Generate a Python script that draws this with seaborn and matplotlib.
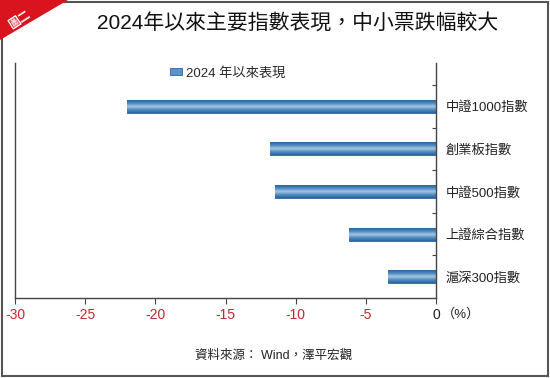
import numpy as np
import pandas as pd
import matplotlib
matplotlib.use("Agg")
import matplotlib.pyplot as plt
import seaborn as sns
from matplotlib.colors import LinearSegmentedColormap
from matplotlib.patches import Polygon, Rectangle, Patch

categories = ["中證1000指數", "創業板指數", "中證500指數", "上證綜合指數", "滬深300指數"]
values = [-22.0, -11.8, -11.45, -6.2, -3.45]
xticks = [-30, -25, -20, -15, -10, -5, 0]
series_name = "2024 年以來表現"
title = "2024年以來主要指數表現，中小票跌幅較大"
source = "資料來源： Wind，澤平宏觀"
unit = "（%）"

sns.set_theme(style="white")
plt.rcParams["font.family"] = ["Liberation Sans", "Noto Sans CJK TC", "DejaVu Sans"]

df = pd.DataFrame({"cat": categories, "val": values})

fig = plt.figure(figsize=(5.5, 3.78), dpi=100)
ax = fig.add_axes([15/550, 1-298/378, (436-15)/550, (298-63)/378])

sns.barplot(data=df, x="val", y="cat", orient="h", order=categories,
            color="#4a86bc", width=0.3, ax=ax, edgecolor="#2a64a0", linewidth=0.6)

cmap = LinearSegmentedColormap.from_list(
    "cyl", ["#2a64a0", "#4f8bc0", "#a6c8e4", "#4f8bc0", "#2a64a0"])
grad = np.linspace(0, 1, 64).reshape(-1, 1)
for p in list(ax.patches):
    x0, y0 = p.get_x(), p.get_y()
    w, h = p.get_width(), p.get_height()
    ax.imshow(grad, cmap=cmap, extent=[x0, x0 + w, y0 + h, y0], aspect="auto",
              clip_path=p, clip_on=True, zorder=p.get_zorder() + 0.1,
              interpolation="bilinear")

ax.set_xlim(-30, 0)
ax.set_ylim(4.5, -1.02)
ax.set_xlabel("")
ax.set_ylabel("")

# spines
for s in ["left", "bottom", "right"]:
    ax.spines[s].set_visible(True)
    ax.spines[s].set_color("#444444")
    ax.spines[s].set_linewidth(1.0)
ax.spines["top"].set_visible(False)

# x ticks
ax.set_xticks(xticks)
ax.set_xticklabels([str(t) for t in xticks])
ax.tick_params(axis="x", direction="out", length=4, width=0.8, color="#444444",
               labelsize=10, pad=3, bottom=True)
for lab, t in zip(ax.get_xticklabels(), xticks):
    lab.set_color("#222222" if t == 0 else "#c0282e")
fig.text(442/550, 1-314/378, unit, ha="left", va="center",
         fontsize=9.5, color="#222222")

# y ticks: labels on right, small marks at boundaries
ax.yaxis.tick_right()
ax.set_yticks(range(len(categories)))
ax.set_yticklabels(categories)
ax.tick_params(axis="y", which="major", length=0, labelsize=9.5, pad=7,
               labelcolor="#222222", left=False, right=True)
ax.set_yticks([-0.5, 0.5, 1.5, 2.5, 3.5], minor=True)
ax.tick_params(axis="y", which="minor", direction="in", length=3, width=0.8,
               color="#444444", left=False, right=True)

# legend
handle = Patch(facecolor="#5b93c4", edgecolor="#2a64a0", linewidth=0.6, label=series_name)
fig.legend(handles=[handle], loc="center left", bbox_to_anchor=(170/550, 1-73/378),
           frameon=False, fontsize=9.5, handlelength=0.9, handleheight=0.5,
           handletextpad=0.35, borderaxespad=0, borderpad=0)

# title and source
fig.text(298/550, 1-23/378, title, ha="center", va="center", fontsize=15, color="#111111")
fig.text(274/550, 1-356/378, source, ha="center", va="center", fontsize=9, color="#222222")

# outer border
fig.patches.append(Rectangle((2/550, 2/378), 546/550, 374/378, transform=fig.transFigure,
                             fill=False, edgecolor="#555555", linewidth=1.5, zorder=1))
# red corner
fig.patches.append(Polygon([(0, 1), (68/550, 1), (0, 1-40/378)], closed=True,
                           transform=fig.transFigure, facecolor="#d9141e",
                           edgecolor="none", zorder=5))
fig.text(20/550, 1-20/378, "圖二", rotation=33, ha="center", va="center",
         fontsize=8.5, color="white", zorder=6, fontweight="bold")

fig.savefig("out.png", dpi=100)
